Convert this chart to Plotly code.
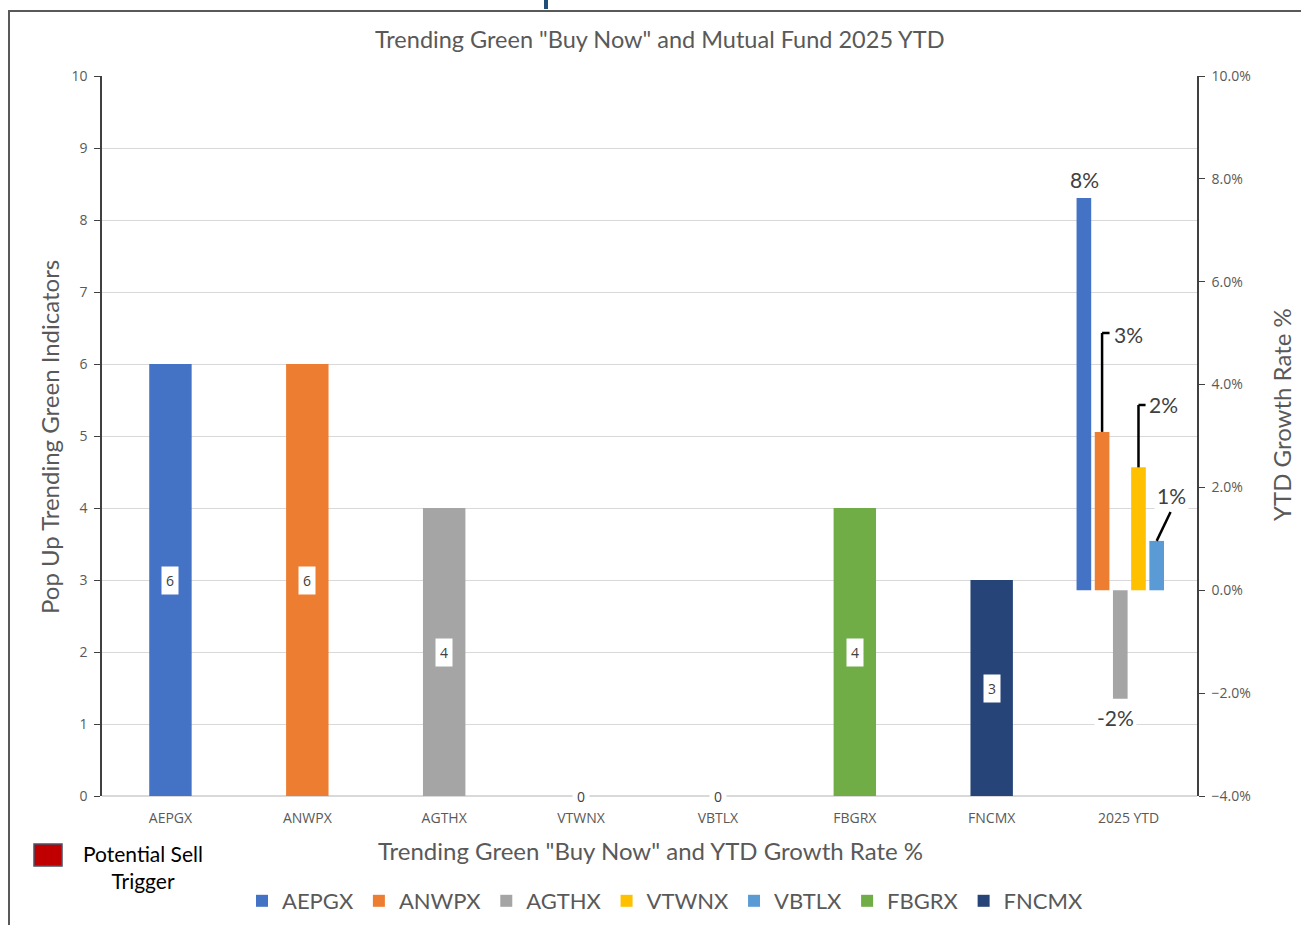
import plotly.graph_objects as go

categories = ["AEPGX", "ANWPX", "AGTHX", "VTWNX", "VBTLX", "FBGRX", "FNCMX", "2025 YTD"]
funds = ["AEPGX", "ANWPX", "AGTHX", "VTWNX", "VBTLX", "FBGRX", "FNCMX"]
indicators = [6, 6, 4, 0, 0, 4, 3]
ytd_funds = ["AEPGX", "ANWPX", "AGTHX", "VTWNX", "VBTLX"]
ytd_growth = [0.0763, 0.0308, -0.0211, 0.0239, 0.0096]
colors = {
    "AEPGX": "#4472C4", "ANWPX": "#ED7D31", "AGTHX": "#A5A5A5", "VTWNX": "#FFC000",
    "VBTLX": "#5B9BD5", "FBGRX": "#70AD47", "FNCMX": "#264478",
}
ytd_offsets = [-0.38, -0.247, -0.114, 0.019, 0.152]
left_ticks = list(range(0, 11))
right_ticks = [-0.04, -0.02, 0.0, 0.02, 0.04, 0.06, 0.08, 0.10]

FONT = "Lato"
TICKFONT = "Open Sans"
GRAY = "#595959"

L, R, T, B = 102, 1197, 76, 796
PW, PH = R - L, B - T


def px(x):
    return (x - L) / PW


def py(y):
    return (B - y) / PH


fig = go.Figure()

for f, v in zip(funds, indicators):
    fig.add_trace(go.Bar(
        x=[f], y=[v], name=f, marker=dict(color=colors[f], line=dict(width=0)),
        width=0.31, yaxis="y",
    ))

for f, v, off in zip(ytd_funds, ytd_growth, ytd_offsets):
    fig.add_trace(go.Bar(
        x=["2025 YTD"], y=[v], name=f, showlegend=False,
        marker=dict(color=colors[f], line=dict(width=0)),
        width=0.107, offset=off, yaxis="y2",
    ))

annotations = []
# primary data labels
for f, v in zip(funds, indicators):
    annotations.append(dict(
        x=f, y=v / 2, xref="x", yref="y", text=str(v), showarrow=False,
        xanchor="center", yanchor="middle",
        bgcolor="white", borderpad=4, font=dict(family=TICKFONT, size=14, color="#404040"),
    ))

# YTD labels
ytd_idx = 7
CAT = PW / 8
YS = PH / 14 * 100  # px per unit on y2


def yv(ypix):
    return (590.3 - ypix) / YS


label_pos = {
    "AEPGX": (ytd_idx + (1084 - 1128) / CAT, yv(180)),
    "ANWPX": (ytd_idx + (1128 - 1128) / CAT, yv(335)),
    "AGTHX": (ytd_idx + (1115 - 1128) / CAT, yv(718)),
    "VTWNX": (ytd_idx + (1163 - 1128) / CAT, yv(405)),
    "VBTLX": (ytd_idx + (1171 - 1128) / CAT, yv(496)),
}
for f, v in zip(ytd_funds, ytd_growth):
    lx, ly = label_pos[f]
    annotations.append(dict(
        x=lx, y=ly, xref="x", yref="y2", text=f"{v:.0%}", showarrow=False,
        xanchor="center", yanchor="middle",
        bgcolor="white" if f in ("AGTHX", "VBTLX") else "rgba(0,0,0,0)",
        borderpad=2, font=dict(family=FONT, size=21, color="#404040"),
    ))

# titles
annotations.append(dict(
    x=px(1281), y=py(415), xref="paper", yref="paper", xanchor="center", yanchor="middle",
    text="YTD Growth Rate %", textangle=-90, showarrow=False,
    font=dict(family=FONT, size=24, color=GRAY),
))
annotations.append(dict(
    x=px(49), y=py(437), xref="paper", yref="paper", xanchor="center", yanchor="middle",
    text="Pop Up Trending Green Indicators", textangle=-90, showarrow=False,
    font=dict(family=FONT, size=24, color=GRAY),
))
annotations.append(dict(
    x=px(650), y=py(850), xref="paper", yref="paper", xanchor="center", yanchor="middle",
    text='Trending Green "Buy Now" and YTD Growth Rate %', showarrow=False,
    font=dict(family=FONT, size=24, color=GRAY),
))
annotations.append(dict(
    x=px(660), y=py(39), xref="paper", yref="paper", xanchor="center", yanchor="middle",
    text='Trending Green "Buy Now" and Mutual Fund 2025 YTD', showarrow=False,
    font=dict(family=FONT, size=23.5, color=GRAY),
))
annotations.append(dict(
    x=px(143), y=py(867), xref="paper", yref="paper", xanchor="center", yanchor="middle",
    text="Potential Sell<br>Trigger", showarrow=False, align="center",
    font=dict(family=FONT, size=21, color="#000000"),
))

shapes = []


def bx(off, w=0.107):
    return ytd_idx + off + w / 2


LINE = dict(color="black", width=2.5)
shapes += [
    dict(type="line", xref="x", yref="y2", x0=bx(ytd_offsets[1]), x1=bx(ytd_offsets[1]),
         y0=ytd_growth[1], y1=yv(333), line=LINE),
    dict(type="line", xref="x", yref="y2", x0=bx(ytd_offsets[1]), x1=ytd_idx + (1109 - 1128) / CAT,
         y0=yv(333), y1=yv(333), line=LINE),
    dict(type="line", xref="x", yref="y2", x0=bx(ytd_offsets[3]), x1=bx(ytd_offsets[3]),
         y0=ytd_growth[3], y1=yv(405), line=LINE),
    dict(type="line", xref="x", yref="y2", x0=bx(ytd_offsets[3]), x1=ytd_idx + (1145 - 1128) / CAT,
         y0=yv(405), y1=yv(405), line=LINE),
    dict(type="line", xref="x", yref="y2", x0=bx(ytd_offsets[4]), x1=ytd_idx + (1170 - 1128) / CAT,
         y0=ytd_growth[4], y1=yv(512), line=LINE),
]
# outer frame
shapes.append(dict(
    type="rect", xref="paper", yref="paper",
    x0=px(9), x1=px(1320), y0=py(940), y1=py(11),
    line=dict(color="#595959", width=2), fillcolor="rgba(0,0,0,0)", layer="below",
))
# cut-off header fragment
shapes.append(dict(
    type="rect", xref="paper", yref="paper",
    x0=px(544), x1=px(548), y0=py(9), y1=py(-2),
    line=dict(width=0), fillcolor="#1F4E79",
))
# potential sell trigger box
shapes.append(dict(
    type="rect", xref="paper", yref="paper",
    x0=px(34), x1=px(62), y0=py(866), y1=py(844),
    line=dict(color="#44546A", width=1.5), fillcolor="#C00000",
))

fig.update_layout(
    width=1301, height=925,
    margin=dict(l=L, r=1301 - R, t=T, b=925 - B, autoexpand=False),
    paper_bgcolor="white", plot_bgcolor="white",
    barmode="overlay",
    xaxis=dict(
        type="category", categoryorder="array", categoryarray=categories,
        range=[-0.5, 7.5], showgrid=False, showline=False, ticks="", zeroline=False,
        automargin=False, ticklabelstandoff=12,
        tickfont=dict(family=TICKFONT, size=14, color=GRAY),
    ),
    yaxis=dict(
        range=[0, 10], tickvals=left_ticks, showgrid=True, gridcolor="#D9D9D9", gridwidth=1,
        showline=True, linecolor="#404040", linewidth=1.5, ticks="outside", ticklen=6,
        tickcolor="#404040", zeroline=True, zerolinecolor="#D9D9D9", automargin=False,
        ticklabelstandoff=4,
        tickfont=dict(family=TICKFONT, size=14, color=GRAY),
    ),
    yaxis2=dict(
        overlaying="y", side="right", range=[-0.04, 0.10], tickvals=right_ticks, tickformat=".1%",
        showgrid=False, zeroline=False, showline=True, linecolor="#404040", linewidth=1.5,
        ticks="outside", ticklen=6, tickcolor="#404040", automargin=False, ticklabelstandoff=4,
        tickfont=dict(family=TICKFONT, size=14, color=GRAY),
    ),
    legend=dict(
        orientation="h", x=px(665), xanchor="center", y=py(901), yanchor="middle",
        font=dict(family=FONT, size=22, color=GRAY), itemwidth=30, tracegroupgap=0,
        bgcolor="rgba(0,0,0,0)",
    ),
    annotations=annotations,
    shapes=shapes,
)

fig.write_html("out.html")
